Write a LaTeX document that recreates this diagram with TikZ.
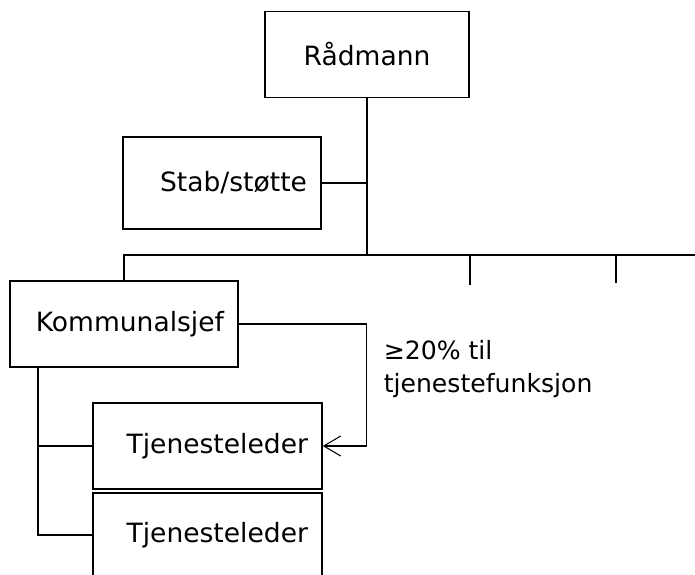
\documentclass[tikz,border=0pt]{standalone}
\usepackage{fontspec}
\setmainfont{DejaVu Sans}
\usetikzlibrary{arrows.meta}

\begin{document}
\begin{tikzpicture}[x=0.02cm,y=-0.02cm,line width=0.85pt,font=\fontsize{15.1}{19.3}\selectfont,unit/.style={shape=rectangle,draw=black,minimum height=1.72cm,inner xsep=0.28cm,align=right},unitC/.style={unit,align=center},note/.style={anchor=west,align=left,inner sep=0pt,font=\fontsize{14.3}{19.1}\selectfont}]
\def\busy{255};
\def\busr{695};

\useasboundingbox (0,0) rectangle (695,574);

\node[unitC,minimum width=4.08cm] (radmann) at (367,54.5) {Rådmann};
\node[unit,text width=3.4cm,minimum height=1.84cm] (stab) at (222,183) {Stab/støtte};
\node[unit,text width=4cm] (komm) at (124,324) {Kommunalsjef};
\node[unit,text width=4.02cm] (tjl1) at (207.5,446) {Tjenesteleder};
\node[unit,text width=4.02cm,minimum height=1.68cm] (tjl2) at (207.5,535) {Tjenesteleder};

\coordinate (busR) at (\busr,\busy);
\coordinate (tickA) at (470,285);
\coordinate (tickB) at (616,283);
\coordinate (kstem) at (38,367);

\draw (radmann.south) -- (radmann.south |- busR);
\draw (stab.east) -- (stab.east -| radmann.south);
\draw (komm.north) |- (busR);
\draw (tickA) -- (tickA |- busR);
\draw (tickB) -- (tickB |- busR);

\draw (kstem) |- (tjl1.west);
\draw (kstem) |- (tjl2.west);

\draw[-{Straight Barb[length=0.34cm,width=0.4cm,line width=0.6pt]}] (komm.east) -- ++(128,0) |- (tjl1.east);
\node[note] (pct) at (383,369) {≥20\% til\\tjenestefunksjon};
\end{tikzpicture}
\end{document}
